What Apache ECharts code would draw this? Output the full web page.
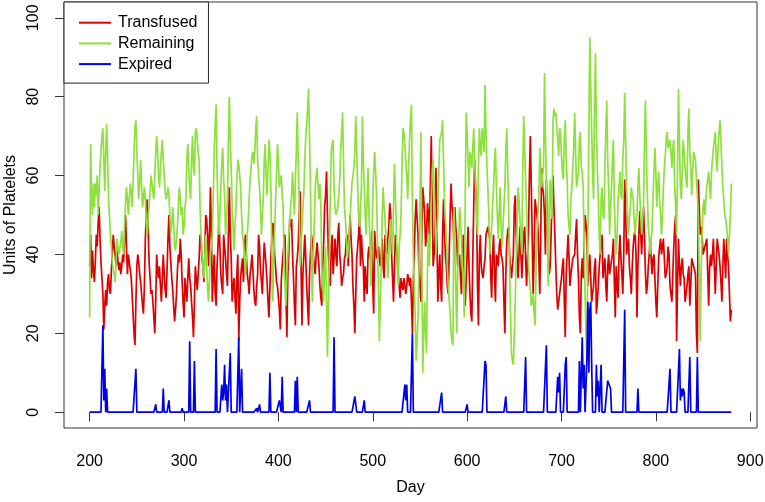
<!DOCTYPE html>
<html>
<head>
<meta charset="utf-8">
<script src="https://cdn.jsdelivr.net/npm/echarts@6/dist/echarts.min.js"></script>
<style>
    html, body { margin: 0; padding: 0; background: #fff; }
    #chart { width: 765px; height: 502px; }
</style>
</head>
<body>
<div id="chart"></div>
<script>
// Daily platelet units, day 200 .. 880 (one value per day)
const firstDay = 200;

const transfused = [
    37,45,34,41,36,33,38,45,42,48, 52,44,38,34,30,21,27,31,27,33,
    35,31,30,36,40,45,42,40,37,42, 38,36,38,35,37,40,38,44,50,42,
    35,40,38,36,34,30,25,20,17,28, 37,40,38,35,33,30,27,25,32,44,
    50,54,46,38,34,30,31,28,24,20, 28,40,36,34,37,32,28,34,40,35,
    31,29,36,44,50,42,38,34,31,27, 23,26,30,36,40,38,44,40,33,28,
    24,34,31,28,34,39,34,32,28,24, 19,28,37,34,31,35,39,45,44,39,
    37,33,40,50,49,45,37,45,57,45, 28,35,40,30,27,37,42,49,42,35,
    32,30,45,42,39,35,32,45,57,45, 39,28,32,34,29,25,35,40,18,28,
    34,37,39,33,39,45,40,35,33,30, 35,37,40,36,31,28,27,32,35,45,
    42,36,33,30,37,43,40,37,33,28, 24,24,39,44,48,47,40,37,33,32,
    32,26,21,33,37,40,43,45,30,19, 35,40,49,47,49,40,34,27,22,37,
    39,42,50,56,37,22,35,40,45,39, 32,27,22,35,40,45,43,40,37,35,
    40,43,40,37,32,29,27,37,43,52, 55,61,50,40,35,32,42,45,35,39,
    44,40,37,45,48,40,37,32,34,35, 39,40,44,45,37,44,50,44,40,32,
    27,20,30,39,42,45,50,37,45,40, 37,28,37,32,30,40,42,39,42,46,
    32,25,46,42,39,40,42,39,37,40, 44,37,34,45,42,40,44,47,53,50,
    40,34,28,37,45,42,39,35,32,29, 34,32,31,34,34,30,32,35,34,32,
    34,28,20,33,41,49,54,49,45,35, 32,28,45,57,54,50,42,45,53,50,
    45,57,70,54,37,40,45,62,45,28, 35,40,32,28,45,54,45,40,37,32,
    30,40,50,58,52,50,42,52,47,44, 37,39,40,34,30,39,45,32,27,34,
    40,47,37,30,25,23,39,52,64,57, 52,32,22,40,45,37,35,34,37,39,
    45,46,47,45,44,35,29,40,45,35, 28,40,39,37,42,44,40,39,37,28,
    20,35,43,46,47,40,37,34,37,40, 52,55,45,39,34,40,47,40,34,40,
    45,47,39,32,39,45,60,70,57,44, 30,40,54,52,50,47,39,30,45,62,
    57,55,50,40,59,47,40,35,37,45, 54,60,52,45,37,30,26,28,30,32,
    34,37,39,28,19,35,40,45,39,32, 35,37,39,39,40,45,49,40,34,24,
    20,35,39,34,42,50,50,45,32,37, 40,34,28,30,32,37,39,25,28,32,
    37,40,44,45,34,37,39,32,28,37, 40,35,35,35,40,44,33,24,37,32,
    29,40,45,39,35,30,40,59,50,40, 42,44,37,34,30,37,42,45,46,40,
    24,37,45,51,45,40,47,52,44,35, 30,32,37,40,44,39,35,39,40,34,
    28,24,32,39,42,44,40,40,44,39, 34,35,37,42,40,32,30,28,35,42,
    47,50,18,32,44,37,32,37,39,35, 34,28,30,32,35,37,27,32,39,38,
    37,36,35,20,15,59,52,45,47,45, 40,41,42,43,44,35,27,37,40,37,
    40,44,37,30,37,44,42,40,37,33, 28,37,44,39,34,44,40,37,30,23,
    26
];

const remaining = [
    24,68,55,50,58,52,58,55,60,50, 56,62,66,70,72,64,56,66,73,64,
    54,50,45,42,38,36,35,33,38,44, 42,40,40,43,46,42,40,48,53,57,
    54,50,54,58,56,52,58,66,72,74, 66,60,54,58,64,58,52,54,57,54,
    48,45,50,52,56,60,60,56,54,60, 66,70,66,60,57,62,66,69,64,60,
    56,54,55,57,55,50,45,48,52,48, 42,41,44,47,52,57,54,50,52,45,
    47,52,54,64,68,62,57,54,64,70, 62,60,71,72,69,66,64,52,45,40,
    37,34,39,45,37,31,28,34,40,42, 45,55,66,73,78,62,50,45,50,57,
    63,67,59,55,45,49,54,69,80,69, 62,52,47,41,47,52,59,64,63,60,
    57,50,45,43,40,35,40,45,49,54, 59,62,65,66,63,66,72,75,64,60,
    57,52,45,50,54,64,68,60,55,62, 69,66,57,41,28,39,45,54,60,68,
    64,57,59,60,55,52,39,32,27,35, 40,45,48,52,55,61,55,50,59,66,
    76,64,54,37,42,47,52,56,64,70, 73,77,82,69,57,40,28,40,47,57,
    60,62,57,54,58,52,37,32,28,37, 42,28,14,28,40,54,66,68,69,57,
    52,50,50,52,55,59,66,71,76,64, 52,49,45,39,39,44,49,54,58,60,
    62,66,75,66,57,50,47,52,57,75, 64,57,50,45,54,62,50,44,32,40,
    54,61,66,61,55,44,32,18,28,37, 50,57,52,49,44,39,34,40,45,49,
    49,40,52,63,55,47,37,32,42,45, 50,62,72,71,71,64,60,54,62,69,
    74,78,54,40,32,24,13,18,24,37, 50,71,40,10,20,28,20,15,37,45,
    37,45,54,61,64,57,51,40,45,50, 61,69,69,71,74,64,54,49,45,37,
    32,32,25,20,18,17,52,45,32,20, 35,42,52,49,44,37,33,24,54,76,
    71,64,57,66,65,62,67,72,64,57, 50,45,62,72,67,65,72,69,66,83,
    71,62,57,50,40,44,47,52,57,64, 67,57,50,44,50,57,47,42,47,52,
    57,66,72,62,52,37,25,15,13,12, 20,28,39,47,57,54,49,44,40,62,
    75,66,59,52,44,37,34,31,27,28, 30,25,22,35,45,50,55,67,62,57,
    60,62,86,70,57,45,32,52,59,52, 49,74,77,75,76,76,69,65,72,71,
    65,61,59,69,74,64,59,50,47,45, 54,57,62,67,76,66,57,59,61,69,
    71,62,61,57,44,30,20,13,45,71, 95,83,71,61,54,79,91,72,62,54,
    45,40,54,57,50,49,62,72,79,64, 57,45,52,57,64,69,54,45,40,45,
    54,57,61,55,54,64,69,81,69,57, 50,45,49,52,57,55,54,49,45,49,
    50,57,62,55,50,45,49,52,69,79, 64,55,47,44,40,44,46,54,61,67,
    61,52,57,61,54,50,45,50,57,62, 65,69,71,67,68,69,66,62,67,69,
    57,52,45,62,82,69,57,54,61,69, 66,62,59,57,71,77,66,62,55,61,
    66,66,64,59,55,50,35,18,35,45, 52,54,50,54,57,59,61,57,54,61,
    64,67,69,71,64,61,67,71,74,69, 62,57,54,50,49,47,44,40,45,50,
    58
];

// Expired is zero on most days; only the non-zero days are listed [day, units]
const expiredDays = [
    [214,22],[215,3],[216,11],[218,6],[249,11],[270,2],[278,6],[284,3],
    [298,1],[306,18],[311,13],[334,16],[340,7],[341,3],[342,5],[343,12],
    [344,3],[345,7],[349,15],[358,19],[361,11],[377,1],[380,2],[391,10],
    [401,3],[402,3],[404,9],[418,8],[420,9],[433,3],[459,19],[481,4],
    [482,4],[491,3],[534,7],[535,3],[536,7],[542,20],[573,5],[600,2],
    [619,13],[620,12],[641,4],[662,14],[684,17],[696,9],[697,5],[698,10],
    [704,12],[705,14],[719,13],[722,19],[723,6],[724,12],[727,14],[728,28],
    [729,10],[730,26],[731,28],[732,12],[737,12],[738,4],[739,8],[742,12],
    [749,8],[750,8],[751,8],[752,6],[767,26],[781,6],[815,11],[825,16],
    [826,3],[827,6],[828,4],[829,6],[830,5],[836,14],[844,14]
];

const xTicks = [200, 300, 400, 500, 600, 700, 800, 900];
const yTicks = [0, 20, 40, 60, 80, 100];

const seriesNames = ['Transfused', 'Remaining', 'Expired'];
const colors = ['#dd0000', '#8ee03c', '#0000ee'];

const days = transfused.map((_, i) => firstDay + i);
const expiredMap = {};
expiredDays.forEach(([d, v]) => { expiredMap[d] = v; });
const expired = days.map(d => expiredMap[d] || 0);

const pairs = vals => days.map((d, i) => [d, vals[i]]);
const font = 'Liberation Sans, Arial, Helvetica, sans-serif';

const chart = echarts.init(document.getElementById('chart'));

function lineSeries(name, vals, color, z) {
    return {
        name: name,
        type: 'line',
        data: pairs(vals),
        symbol: 'none',
        showSymbol: false,
        z: z,
        lineStyle: { color: color, width: 1.7 },
        itemStyle: { color: color },
    };
}

chart.setOption({
    animation: false,
    textStyle: { fontFamily: font },
    grid: {
        left: 64, right: 8, top: 2, bottom: 74,
        outerBoundsMode: 'none',
        show: true, borderColor: '#333', borderWidth: 1,
    },
    legend: {
        data: seriesNames,
        orient: 'vertical',
        left: 64, top: 2,
        padding: [12.7, 11, 11, 15],
        itemGap: 4.7,
        itemWidth: 32, itemHeight: 2,
        icon: 'rect',
        itemStyle: { borderWidth: 0 },
        borderColor: '#222', borderWidth: 1,
        backgroundColor: '#fff',
        textStyle: { fontSize: 16, color: '#000', fontFamily: font, padding: [0, 0, 0, 2] },
    },
    xAxis: {
        type: 'value', min: 172.8, max: 907.2,
        name: 'Day', nameLocation: 'middle', nameGap: 52,
        nameTextStyle: { fontSize: 16, color: '#000', fontFamily: font },
        axisLine: { show: false },
        axisTick: { show: true, length: 9, customValues: xTicks, lineStyle: { color: '#333' } },
        axisLabel: { customValues: xTicks, fontSize: 16, color: '#000', margin: 26, fontFamily: font },
        splitLine: { show: false },
    },
    yAxis: {
        type: 'value', min: -4, max: 104,
        name: 'Units of Platelets', nameLocation: 'middle', nameGap: 39, nameRotate: 90,
        nameTextStyle: { fontSize: 16, color: '#000', fontFamily: font },
        axisLine: { show: false },
        axisTick: { show: true, length: 9, customValues: yTicks, lineStyle: { color: '#333' } },
        axisLabel: { customValues: yTicks, rotate: 90, fontSize: 16, color: '#000', margin: 22, fontFamily: font },
        splitLine: { show: false },
    },
    series: [
        lineSeries('Transfused', transfused, colors[0], 2),
        lineSeries('Remaining', remaining, colors[1], 3),
        lineSeries('Expired', expired, colors[2], 4),
    ],
});
</script>
</body>
</html>
